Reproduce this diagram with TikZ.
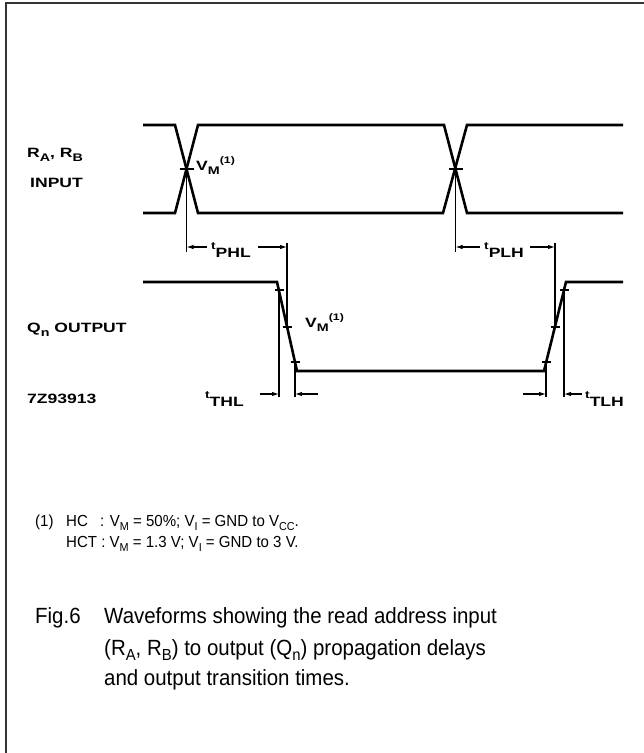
\documentclass[tikz,border=0pt]{standalone}
\usepackage{fontspec}
\setmainfont{Liberation Sans}
\usetikzlibrary{arrows.meta}
\newcommand\lb[1]{\scalebox{1.3}[1]{\fontsize{13.5}{14}\selectfont\bfseries #1}}
\newcommand\lsub[1]{\raisebox{-0.35em}{\fontsize{11}{11}\selectfont #1}}
\newcommand\lsup[1]{\raisebox{0.5em}{\fontsize{9.5}{10}\selectfont #1}}
\newcommand\tl[1]{{\fontsize{10.5}{10}\selectfont t}\raisebox{-8pt}{#1}}
\newcommand\fsub[1]{\raisebox{-0.25em}{\fontsize{11.5}{11}\selectfont #1}}
\newcommand\csub[1]{\raisebox{-0.25em}{\fontsize{16}{16}\selectfont #1}}
\newcommand\captx[1]{\scalebox{0.93}[1]{#1}}
\newcommand\fntx[1]{\scalebox{0.94}[1]{#1}}
\begin{document}
\begin{tikzpicture}[x=1pt,y=-1pt,
  wave/.style={line width=2.6pt,line join=miter},
  dim/.style={line width=1.1pt},
  tick/.style={line width=1.1pt},
  arr/.style={line width=1.1pt,-{Latex[length=7pt,width=4.5pt]}},
  lab/.style={inner sep=0pt,anchor=base west},
  frame/.style={line width=2pt,draw=black!80}]
\useasboundingbox (0,0) rectangle (644,753);
% frame
\draw[frame] (6,753) -- (6,3) -- (644,3);
% input waveforms
\draw[wave] (143,125) -- (175,125) -- (198,213) -- (443,213) -- (467,125) -- (623,125);
\draw[wave] (143,213) -- (175,213) -- (198,125) -- (444,125) -- (467,213) -- (623,213);
% output waveform
\draw[wave] (143,282) -- (277,282) -- (297,371) -- (544,371) -- (566,282) -- (623,282);
% VM points
\coordinate (x1) at (186.5,169);
\coordinate (x2) at (455.5,169);
\coordinate (f1) at (279,290);
\coordinate (f2) at (287,327);
\coordinate (f3) at (295,362);
\coordinate (r1) at (546,362);
\coordinate (r2) at (555,327);
\coordinate (r3) at (564,290);
% ticks
\foreach \p/\w in {x1/7,x2/7,f1/4.5,f2/4.5,f3/4.5,r1/4.5,r2/4.5,r3/4.5}
  \draw[tick] ([xshift=-\w pt]\p) -- ([xshift=\w pt]\p);
% dimension verticals
\coordinate (x1b) at (186.5,252);
\coordinate (x2b) at (455.5,252);
\coordinate (f2t) at (287,243);
\coordinate (r2t) at (555,243);
\coordinate (f1b) at (279,397);
\coordinate (f3b) at (295,397);
\coordinate (r1b) at (546,397);
\coordinate (r3b) at (564,397);
\draw[dim] (x1) -- (x1b);
\draw[dim] (x2) -- (x2b);
\draw[dim] (f2t) -- (f2);
\draw[dim] (r2t) -- (r2);
\draw[dim] (f1) -- (f1b);
\draw[dim] (f3) -- (f3b);
\draw[dim] (r1) -- (r1b);
\draw[dim] (r3) -- (r3b);
% arrows
\coordinate (a1) at (207,247); \coordinate (a1t) at (186.5,247);
\coordinate (a2) at (258,247); \coordinate (a2t) at (287,247);
\coordinate (a3) at (480,247); \coordinate (a3t) at (455.5,247);
\coordinate (a4) at (530,247); \coordinate (a4t) at (555,247);
\coordinate (a5) at (260,394); \coordinate (a5t) at (279,394);
\coordinate (a6) at (318,394); \coordinate (a6t) at (295,394);
\coordinate (a7) at (523,394); \coordinate (a7t) at (546,394);
\coordinate (a8) at (582,394); \coordinate (a8t) at (564,394);
\foreach \s/\t in {a1/a1t,a2/a2t,a3/a3t,a4/a4t,a5/a5t,a6/a6t,a7/a7t,a8/a8t}
  \draw[arr] (\s) -- (\t);
% labels
\node[lab] (rab) at (27,157) {\lb{R\lsub{A}, R\lsub{B}}};
\node[lab] (inp) at (30,187) {\lb{INPUT}};
\node[lab] (qn) at (27,332) {\lb{Q\lsub{n} OUTPUT}};
\node[lab] (code) at (27,403) {\lb{7Z93913}};
\node[lab] (vm1) at (196,170) {\lb{V\lsub{M}\lsup{(1)}}};
\node[lab] (vm2) at (305,327) {\lb{V\lsub{M}\lsup{(1)}}};
\node[lab] (tphl) at (211,249) {\lb{\tl{PHL}}};
\node[lab] (tplh) at (484,249) {\lb{\tl{PLH}}};
\node[lab] (tthl) at (205,398) {\lb{\tl{THL}}};
\node[lab] (ttlh) at (585,398) {\lb{\tl{TLH}}};
% footnote
\begin{scope}[every node/.style={inner sep=0pt,anchor=base west,font=\fontsize{16}{16}\selectfont}]
\node (fn1) at (35,526) {\fntx{(1)}};
\node (fn2) at (66,526) {\fntx{HC}};
\node (fn3) at (100,526) {\fntx{: V\fsub{M} = 50\%; V\fsub{I} = GND to V\fsub{CC}.}};
\node (fn4) at (66,547) {\fntx{HCT : V\fsub{M} = 1.3 V; V\fsub{I} = GND to 3 V.}};
\end{scope}
% caption
\begin{scope}[every node/.style={inner sep=0pt,anchor=base west,font=\fontsize{22}{22}\selectfont}]
\node (fig) at (35,623) {\captx{Fig.6}};
\node (c1) at (104,623) {\captx{Waveforms showing the read address input}};
\node (c2) at (104,655) {\captx{(R\csub{A}, R\csub{B}) to output (Q\csub{n}) propagation delays}};
\node (c3) at (104,685) {\captx{and output transition times.}};
\end{scope}
\end{tikzpicture}
\end{document}
